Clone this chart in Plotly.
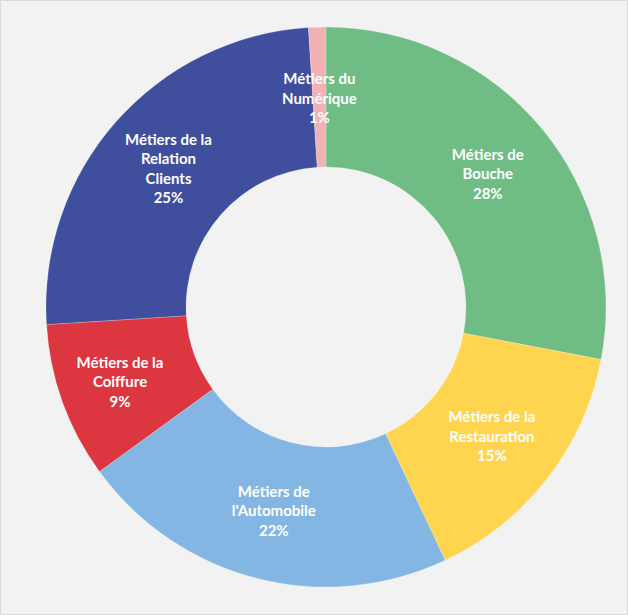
import math
import plotly.graph_objects as go

categories = ["Métiers de Bouche", "Métiers de la Restauration", "Métiers de l'Automobile",
              "Métiers de la Coiffure", "Métiers de la Relation Clients", "Métiers du Numérique"]
label_text = ["Métiers de<br>Bouche", "Métiers de la<br>Restauration", "Métiers de<br>l'Automobile",
              "Métiers de la<br>Coiffure", "Métiers de la<br>Relation<br>Clients", "Métiers du<br>Numérique"]
values = [28, 15, 22, 9, 25, 1]
colors = ["#6fbd85", "#ffd54f", "#83b6e3", "#dc3640", "#3f4e9d", "#f2b2b5"]

texts = [f"{t}<br>{v}%" for t, v in zip(label_text, values)]

W, H = 628, 615
ml, mr, mt, mb = 46, 22, 27, 28
HOLE = 0.5
SMALL = 3  # slices below this value get an annotation label

slice_texts = [t if v >= SMALL else "" for t, v in zip(texts, values)]

font = dict(family="Lato", size=15, color="white", weight="bold")

fig = go.Figure(go.Pie(
    labels=categories,
    values=values,
    text=slice_texts,
    textinfo="text",
    textposition="inside",
    insidetextorientation="horizontal",
    hole=HOLE,
    sort=False,
    direction="clockwise",
    rotation=0,
    marker=dict(colors=colors, line=dict(color="rgba(255,255,255,0.4)", width=0.5)),
    textfont=font,
    showlegend=False,
    hoverinfo="label+percent",
))

# labels for tiny slices, placed mid-ring from the data
total = sum(values)
cum = 0
for t, v in zip(texts, values):
    if v < SMALL:
        ang = 2 * math.pi * (cum + v / 2) / total
        r = 0.5 * (1 + HOLE) / 2
        fig.add_annotation(x=0.5 + r * math.sin(ang), y=0.5 + r * math.cos(ang),
                           xref="paper", yref="paper", xanchor="center", yanchor="middle",
                           text=t, showarrow=False, font=font, align="center")
    cum += v

pw, ph = W - ml - mr, H - mt - mb
fig.add_shape(type="rect", xref="paper", yref="paper",
              x0=(-ml + 0.5) / pw, x1=(pw + mr - 0.5) / pw,
              y0=(-mb + 0.5) / ph, y1=(ph + mt - 0.5) / ph,
              line=dict(color="#d9d9d9", width=1), layer="below")

fig.update_layout(
    width=W, height=H,
    margin=dict(l=ml, r=mr, t=mt, b=mb),
    paper_bgcolor="#f2f2f2",
    plot_bgcolor="#f2f2f2",
    uniformtext=dict(minsize=15, mode="show"),
)

fig.write_html("out.html", config={"displayModeBar": False},
               post_script="document.body.style.margin='0';document.body.style.overflow='hidden';")
